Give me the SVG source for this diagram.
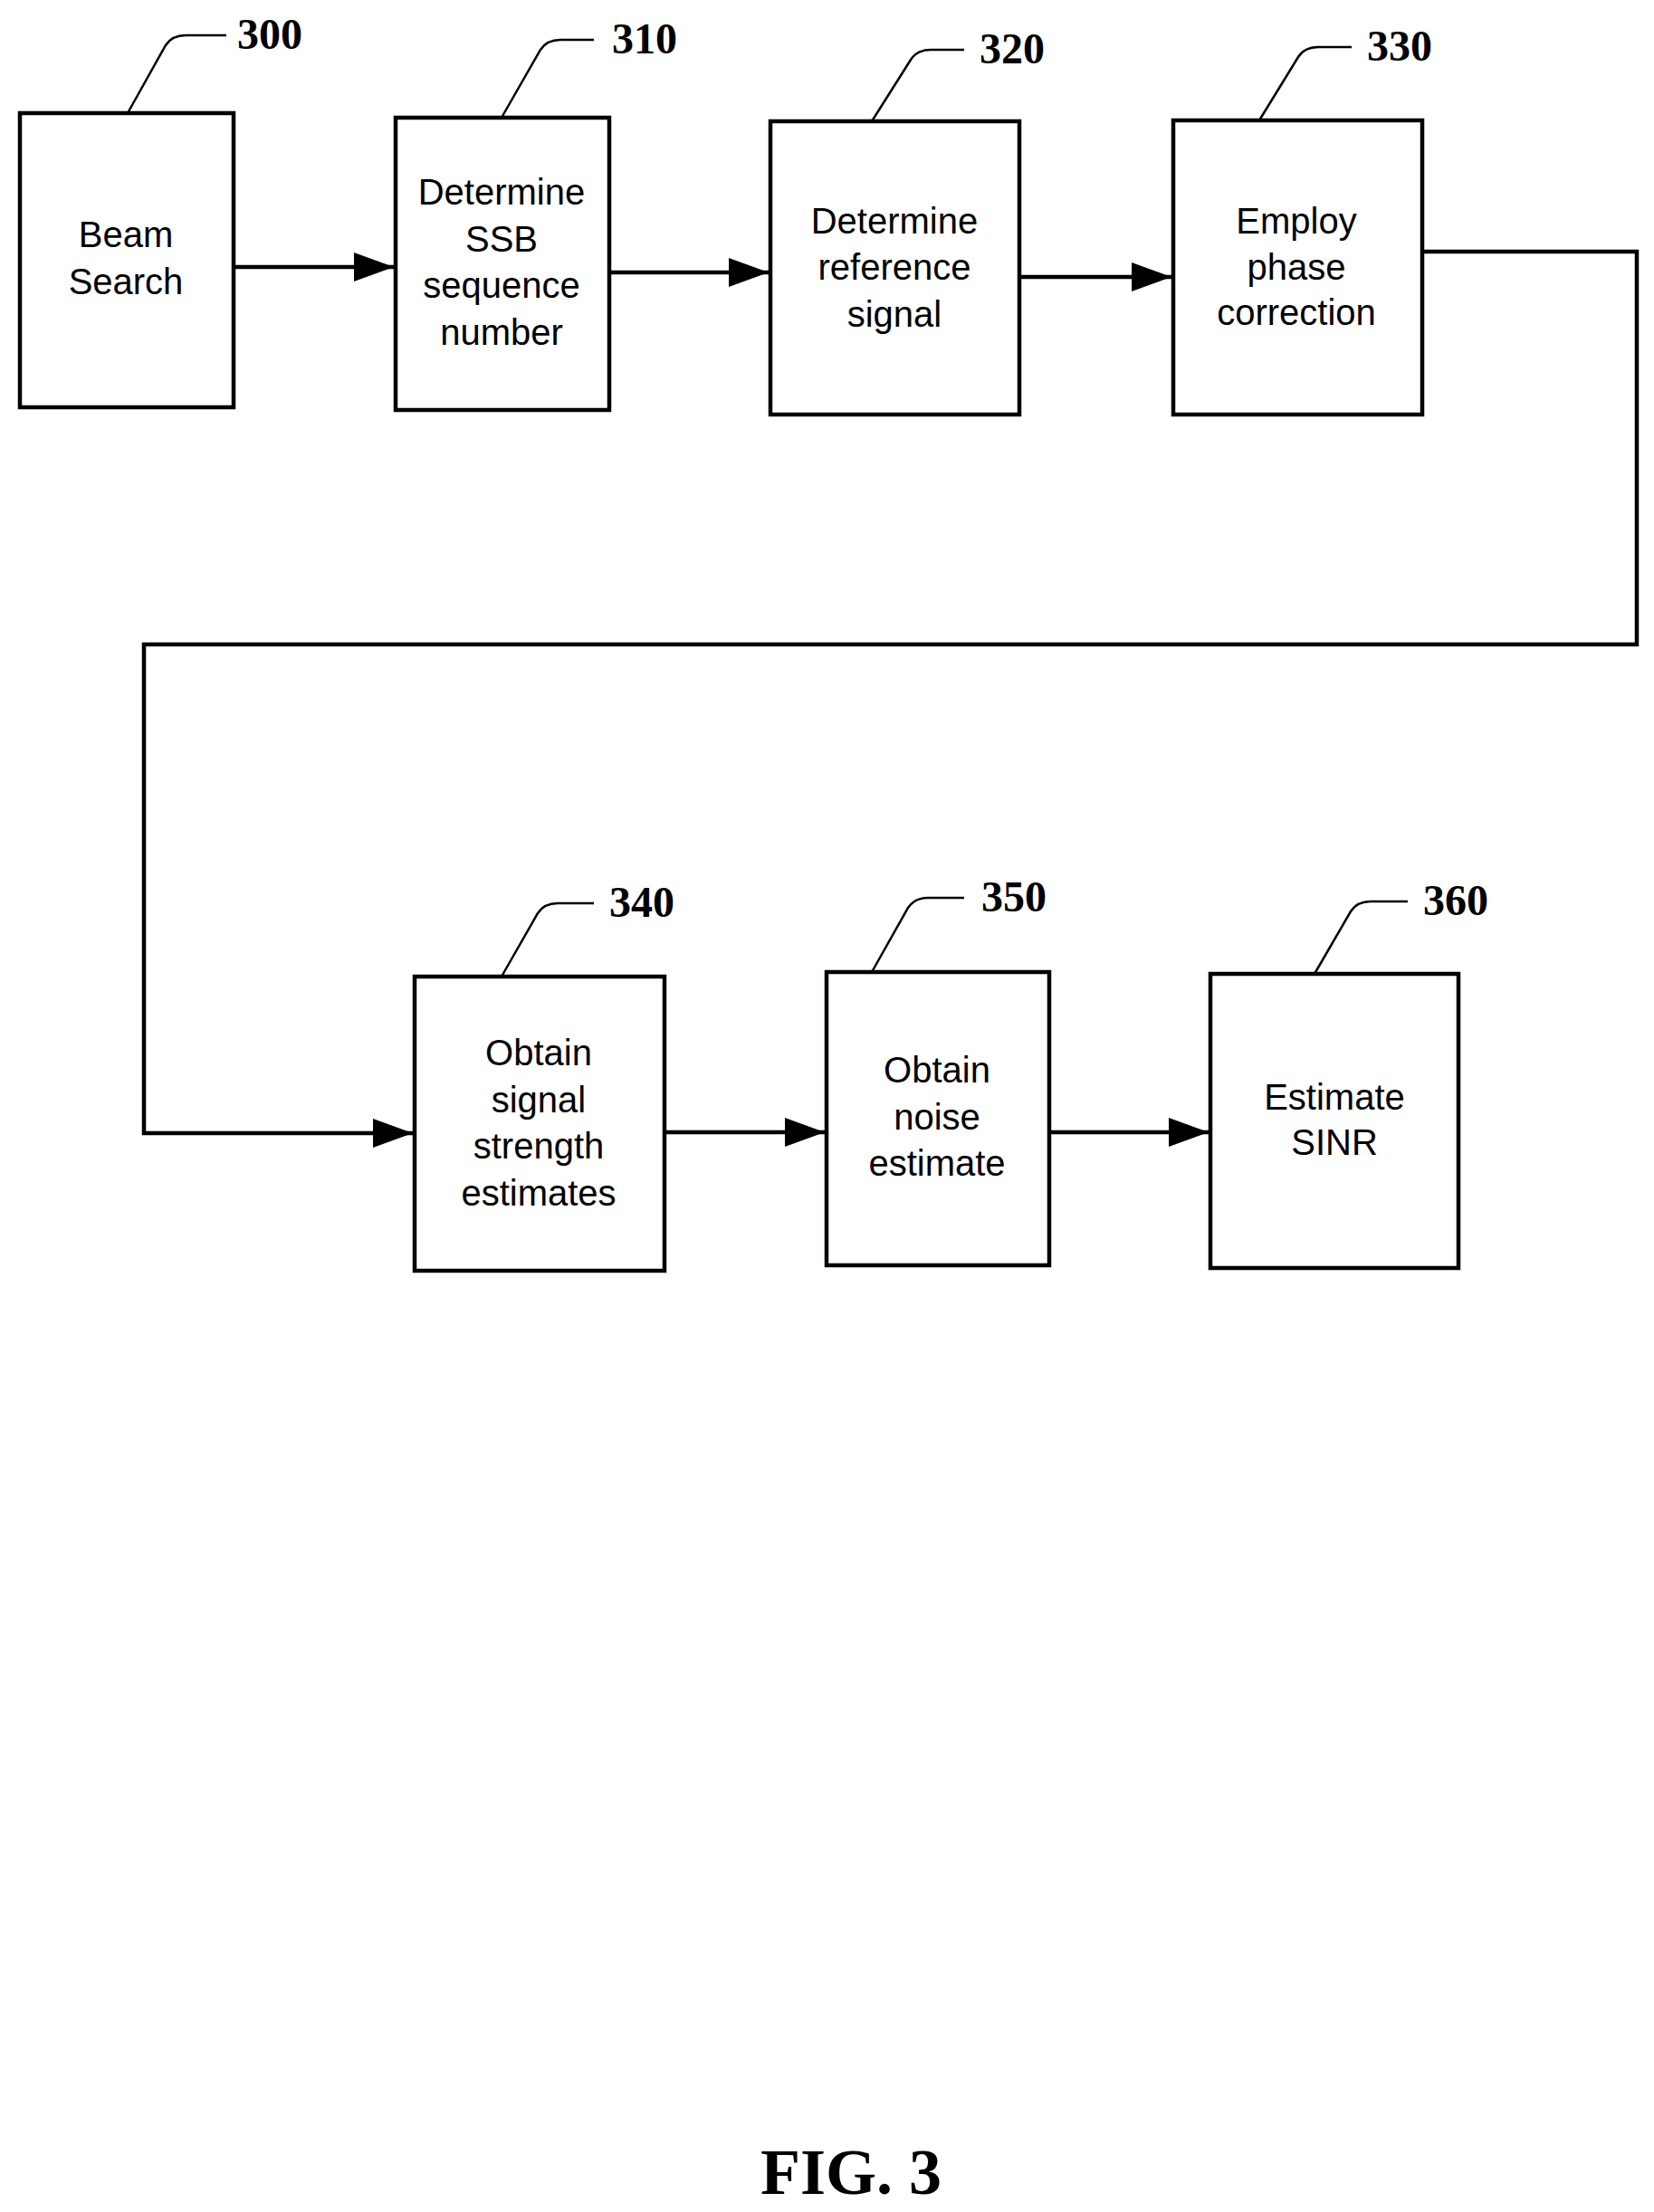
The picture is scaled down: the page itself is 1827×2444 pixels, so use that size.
<svg xmlns="http://www.w3.org/2000/svg" width="1827" height="2444" viewBox="0 0 1827 2444">
<style>
rect{fill:#fff;stroke:#000;stroke-width:4.5}
.t{font-family:"Liberation Sans",Arial,sans-serif;font-size:40px;text-anchor:middle}
.n{font-family:"Liberation Serif","Times New Roman",serif;font-size:48px;font-weight:bold;text-anchor:middle}
.l{fill:none;stroke:#000;stroke-width:2.5}
.c{fill:none;stroke:#000;stroke-width:4.5}
</style>
<defs><marker id="a" markerUnits="userSpaceOnUse" markerWidth="46" markerHeight="32" refX="44" refY="16" orient="auto"><path d="M0,0L44,16L0,32z"/></marker></defs>
<rect width="1827" height="2444" style="stroke:none"/>
<g id="connectors">
<path class="c" d="M258,295H435" marker-end="url(#a)"/>
<path class="c" d="M673,301H849" marker-end="url(#a)"/>
<path class="c" d="M1126,306H1294" marker-end="url(#a)"/>
<path class="c" d="M1571,278H1808V712H159V1252H456" marker-end="url(#a)"/>
<path class="c" d="M734,1251H911" marker-end="url(#a)"/>
<path class="c" d="M1159,1251H1335" marker-end="url(#a)"/>
</g>
<g id="n300"><rect x="22" y="125" width="236" height="325"/><text class="t" x="139" y="273">Beam</text><text class="t" x="139" y="325">Search</text><path class="l" d="M141,125L183,50Q190,39 205,39H250"/><text class="n" x="298" y="54">300</text></g>
<g id="n310"><rect x="437" y="130" width="236" height="323"/><text class="t" x="554" y="226">Determine</text><text class="t" x="554" y="278">SSB</text><text class="t" x="554" y="329">sequence</text><text class="t" x="554" y="381">number</text><path class="l" d="M554,130L597,55Q604,44 619,44H656"/><text class="n" x="712" y="59">310</text></g>
<g id="n320"><rect x="851" y="134" width="275" height="324"/><text class="t" x="988" y="258">Determine</text><text class="t" x="988" y="309">reference</text><text class="t" x="988" y="361">signal</text><path class="l" d="M963,134L1006,66Q1013,55 1028,55H1065"/><text class="n" x="1118" y="70">320</text></g>
<g id="n330"><rect x="1296" y="133" width="275" height="325"/><text class="t" x="1432" y="258">Employ</text><text class="t" x="1432" y="309">phase</text><text class="t" x="1432" y="359">correction</text><path class="l" d="M1391,133L1434,63Q1441,52 1456,52H1493"/><text class="n" x="1546" y="67">330</text></g>
<g id="n340"><rect x="458" y="1079" width="276" height="325"/><text class="t" x="595" y="1177">Obtain</text><text class="t" x="595" y="1229">signal</text><text class="t" x="595" y="1280">strength</text><text class="t" x="595" y="1332">estimates</text><path class="l" d="M554,1079L594,1009Q601,998 616,998H656"/><text class="n" x="709" y="1013">340</text></g>
<g id="n350"><rect x="913" y="1074" width="246" height="324"/><text class="t" x="1035" y="1196">Obtain</text><text class="t" x="1035" y="1248">noise</text><text class="t" x="1035" y="1299">estimate</text><path class="l" d="M963,1074L1003,1003Q1010,992 1025,992H1065"/><text class="n" x="1120" y="1007">350</text></g>
<g id="n360"><rect x="1337" y="1076" width="274" height="325"/><text class="t" x="1474" y="1226">Estimate</text><text class="t" x="1474" y="1276">SINR</text><path class="l" d="M1452,1076L1492,1007Q1499,996 1514,996H1555"/><text class="n" x="1608" y="1011">360</text></g>
<text x="940" y="2424" style="font-family:'Liberation Serif',serif;font-size:72px;font-weight:bold;text-anchor:middle">FIG. 3</text>
</svg>
